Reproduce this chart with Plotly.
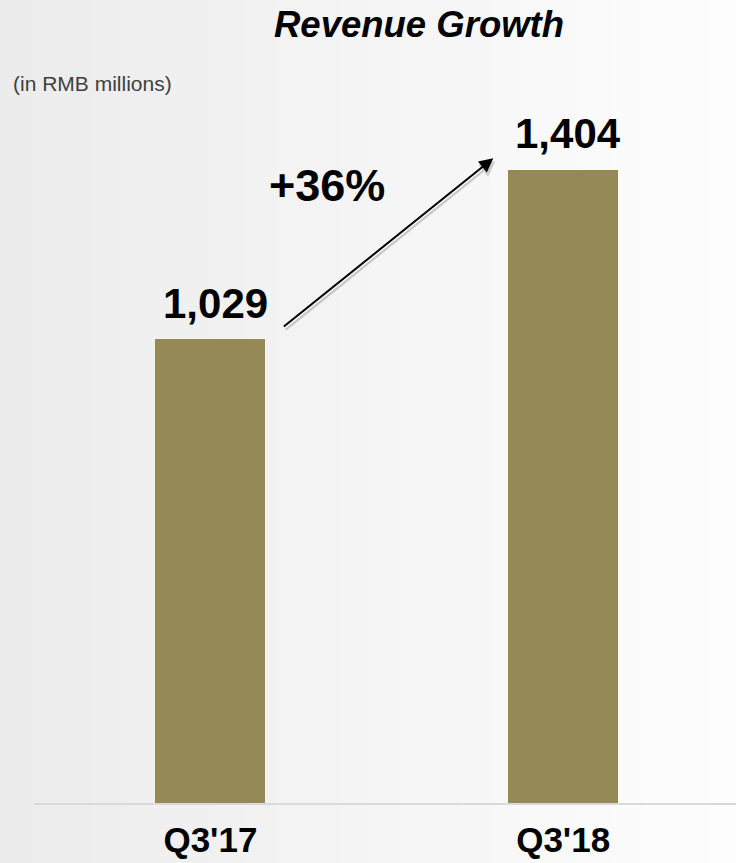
import plotly.graph_objects as go

categories = ["Q3'17", "Q3'18"]
revenue = [1029, 1404]
title_text = "Revenue Growth"
unit_text = "(in RMB millions)"

BAR_COLOR = "#958a55"
FONT = "Arial, Liberation Sans, sans-serif"

growth = (revenue[1] / revenue[0] - 1) * 100
growth_text = f"+{growth:.0f}%"

W, H = 736, 863
ml, mr, mt, mb = 34, 0, 60, 60
plot_h = H - mt - mb
plot_w = W - ml - mr
px_per_unit = 0.4509
y_top = plot_h / px_per_unit

fig = go.Figure()
fig.add_trace(go.Bar(
    x=[0, 1], y=revenue, width=0.312,
    marker=dict(color=BAR_COLOR, line=dict(width=0)),
    hoverinfo="skip",
))

annotations = []
# value labels
for i, v in enumerate(revenue):
    annotations.append(dict(
        x=i, y=v, xref="x", yref="y", text=f"<b>{v:,}</b>",
        showarrow=False, yanchor="bottom", xanchor="center",
        xshift=5, yshift=10 if i == 0 else 11,
        font=dict(family=FONT, size=42, color="#000000"),
    ))
# growth arrow (shadow + main)
tail = (0.204, revenue[0] + 25)
head = (0.802, revenue[1] + 26)
annotations.append(dict(
    x=head[0], y=head[1], ax=tail[0], ay=tail[1],
    xref="x", yref="y", axref="x", ayref="y",
    text="", showarrow=True, arrowhead=2, arrowsize=1.4, arrowwidth=2.2,
    arrowcolor="rgba(0,0,0,0.18)", standoff=0, xshift=2, yshift=-3,
))
annotations.append(dict(
    x=head[0], y=head[1], ax=tail[0], ay=tail[1],
    xref="x", yref="y", axref="x", ayref="y",
    text="", showarrow=True, arrowhead=2, arrowsize=1.4, arrowwidth=2,
    arrowcolor="#000000", standoff=0,
))
annotations.append(dict(
    x=0.331, y=revenue[0] + 341, xref="x", yref="y",
    text=f"<b>{growth_text}</b>", showarrow=False,
    xanchor="center", yanchor="middle",
    font=dict(family=FONT, size=45, color="#000000"),
))
# title & unit (pixel positions converted to paper coords)
for px, py, txt, anchor, size, col in [
    (419, 24, f"<b><i>{title_text}</i></b>", "center", 36.5, "#000000"),
    (11, 84, unit_text, "left", 21, "#404040"),
]:
    annotations.append(dict(
        x=(px - ml) / plot_w, y=(H - py - mb) / plot_h, xref="paper", yref="paper",
        text=txt, showarrow=False, xanchor=anchor, yanchor="middle",
        font=dict(family=FONT, size=size, color=col),
    ))

# background gradient stripes
shapes = []
n = 24
for k in range(n):
    x0 = k * W / n
    x1 = (k + 1) * W / n + 1
    t = (k + 0.5) / n
    c = int(236 + (254 - 236) * t)
    shapes.append(dict(
        type="rect", xref="paper", yref="paper", layer="below",
        x0=(x0 - ml) / plot_w, x1=(x1 - ml) / plot_w,
        y0=-(mb + 2) / plot_h, y1=(H - mb + 2) / plot_h,
        fillcolor=f"rgb({c},{c},{c})", line=dict(width=0),
    ))

fig.update_layout(
    width=W, height=H, autosize=False,
    margin=dict(l=ml, r=mr, t=mt, b=mb, autoexpand=False),
    paper_bgcolor="#f6f6f6",
    plot_bgcolor="rgba(0,0,0,0)",
    showlegend=False,
    annotations=annotations,
    shapes=shapes,
    bargap=0,
)
fig.update_xaxes(
    range=[-0.5, 1.49], tickvals=[0, 1], ticktext=[f"<b>{c}</b>" for c in categories],
    tickfont=dict(family=FONT, size=35, color="#000000"),
    showline=True, linecolor="#d9d9d9", linewidth=2,
    ticks="outside", ticklen=5, tickcolor="rgba(0,0,0,0)",
    showgrid=False, zeroline=False, fixedrange=True, automargin=False,
)
fig.update_yaxes(
    range=[0, y_top], visible=False, showgrid=False, zeroline=False,
    fixedrange=True, automargin=False,
)

css_js = (
    "var de=document.documentElement, b=document.body;"
    "[de,b].forEach(function(e){e.style.margin='0';e.style.padding='0';"
    "e.style.overflow='hidden';});"
)

fig.write_html(
    "out.html",
    config={"displayModeBar": False, "staticPlot": True},
    post_script=css_js,
)
